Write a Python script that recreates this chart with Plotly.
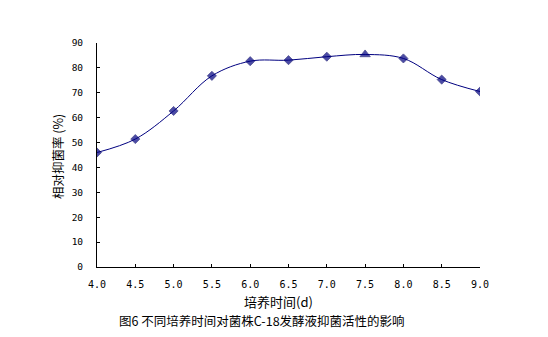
import plotly.graph_objects as go

days = [4.0, 4.5, 5.0, 5.5, 6.0, 6.5, 7.0, 7.5, 8.0, 8.5, 9.0]
inhibition = [46.0, 51.4, 62.7, 76.8, 82.7, 83.1, 84.5, 85.4, 83.8, 75.3, 70.5]
marker_symbols = ["diamond"] * 7 + ["triangle-up"] + ["diamond"] * 3
marker_sizes = [7] * 7 + [9] + [7] * 3
x_ticks = [4.0, 4.5, 5.0, 5.5, 6.0, 6.5, 7.0, 7.5, 8.0, 8.5, 9.0]
x_tick_labels = ["4.0", "4.5", "5.0", "5.5", "6.0", "6.5", "7.0", "7.5", "8.0", "8.5", "9.0"]
y_ticks = [0, 10, 20, 30, 40, 50, 60, 70, 80, 90]

x_title = "培养时间(d)"
y_title = "相对抑菌率 (%)"
caption = "图6 不同培养时间对菌株C-18发酵液抑菌活性的影响"

cjk = "Noto Sans CJK SC"
mono = "DejaVu Sans Mono"

fig = go.Figure()
fig.add_trace(go.Scatter(
    x=days, y=inhibition, mode="lines+markers",
    line=dict(color="#000080", width=1, shape="spline", smoothing=1.0),
    marker=dict(symbol=marker_symbols, size=marker_sizes, color="#000080",
                line=dict(color="#000060", width=0.8)),
    showlegend=False,
))

fig.update_layout(
    width=548, height=337,
    margin=dict(l=97, r=68, t=43, b=70),
    paper_bgcolor="white", plot_bgcolor="white",
    xaxis=dict(
        range=[4, 9], tickvals=x_ticks, ticktext=x_tick_labels,
        showgrid=False, zeroline=False, showline=True, linecolor="black", linewidth=1,
        ticks="inside", ticklen=3, tickcolor="black",
        tickfont=dict(family=mono, size=10, color="black"),
        ticklabelstandoff=8,
    ),
    yaxis=dict(
        range=[0, 90], tickvals=y_ticks,
        showgrid=False, zeroline=False, showline=True, linecolor="black", linewidth=1,
        ticks="inside", ticklen=3, tickcolor="black",
        tickfont=dict(family=mono, size=9.5, color="black"),
        ticklabelstandoff=11,
    ),
    annotations=[
        dict(text=x_title, xref="paper", yref="paper", x=(278 - 97) / 383, y=-(301.5 - 267) / 224,
             showarrow=False, xanchor="center", yanchor="middle",
             font=dict(family=cjk, size=13, color="black")),
        dict(text=caption, xref="paper", yref="paper", x=(262 - 97) / 383, y=-(320.5 - 267) / 224,
             showarrow=False, xanchor="center", yanchor="middle",
             font=dict(family=cjk, size=12.5, color="black")),
        dict(text=y_title, xref="paper", yref="paper", x=-(97 - 57) / 383, y=(267 - 157) / 224,
             showarrow=False, xanchor="center", yanchor="middle", textangle=-90,
             font=dict(family=cjk, size=12.5, color="black")),
    ],
)

fig.write_html("out.html")
